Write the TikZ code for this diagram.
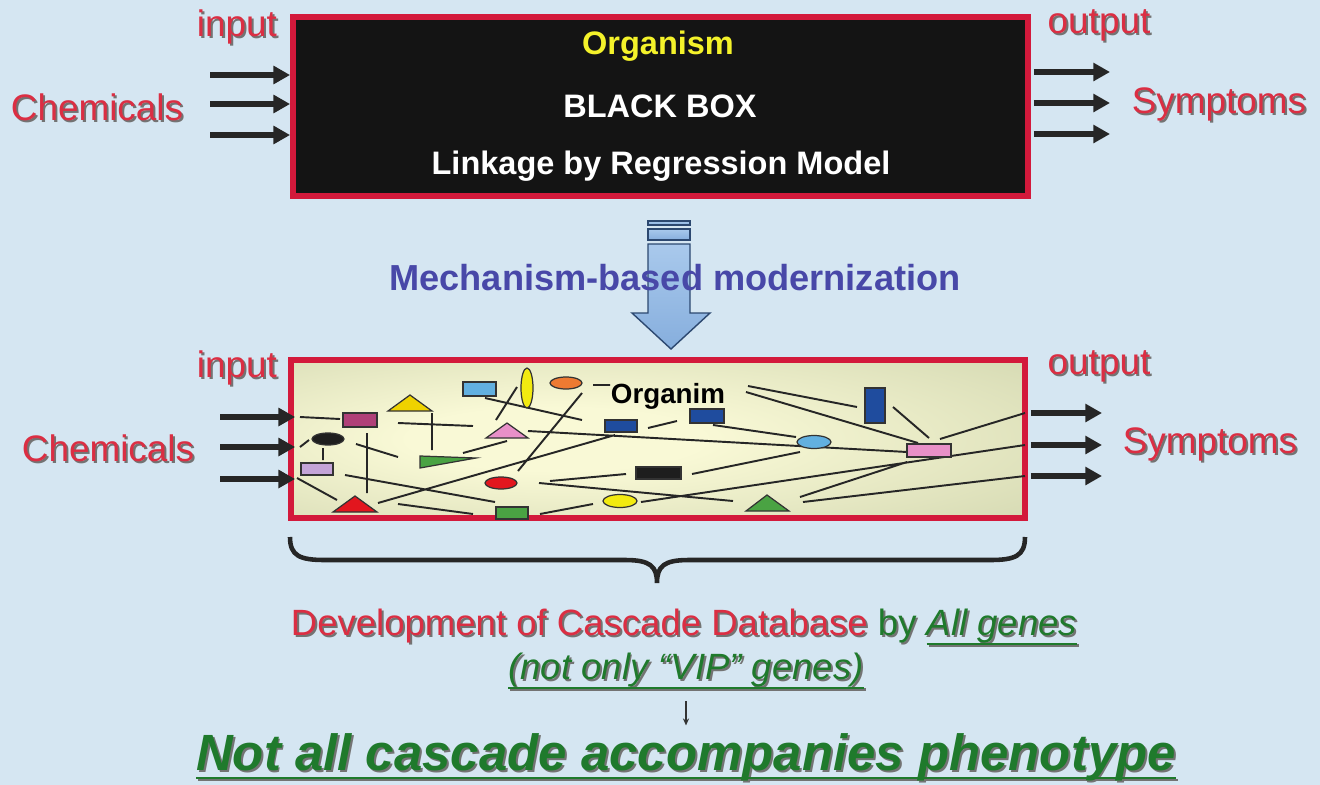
\documentclass[tikz,border=0pt]{standalone}
\usepackage{fontspec}
\setmainfont{Liberation Sans}
\usetikzlibrary{arrows.meta}

\definecolor{bgblue}{HTML}{D5E6F2}
\definecolor{boxred}{HTML}{D3193B}
\definecolor{txtred}{HTML}{DB2E43}
\definecolor{txtgreen}{HTML}{1F7A2C}
\definecolor{txtblue}{HTML}{4848A8}
\definecolor{orgyellow}{HTML}{F4F22A}
\definecolor{arrowfill}{HTML}{A9C9EC}
\definecolor{arrowdark}{HTML}{86AEDD}
\definecolor{arrowline}{HTML}{2C4870}
\definecolor{glowin}{HTML}{F9F9D6}
\definecolor{glowout}{HTML}{C6CCA4}
\definecolor{shLblue}{HTML}{62B0E0}
\definecolor{shYellow}{HTML}{F2EA10}
\definecolor{shOrange}{HTML}{EE7A32}
\definecolor{shGold}{HTML}{EED200}
\definecolor{shMagenta}{HTML}{B04078}
\definecolor{shPink}{HTML}{E890C8}
\definecolor{shBlack}{HTML}{1E1E1E}
\definecolor{shLav}{HTML}{C4A4D8}
\definecolor{shGreen}{HTML}{4AA343}
\definecolor{shRed}{HTML}{E2161E}
\definecolor{shDblue}{HTML}{1F4C9E}

% 细胞内部的径向渐变
\pgfdeclareradialshading{cellglow}{\pgfpoint{-8bp}{0bp}}{color(0bp)=(glowin); color(10bp)=(glowin); color(52bp)=(glowout); color(80bp)=(glowout)}

\newcommand\fs[1]{\fontsize{#1}{#1}\selectfont}
% 带阴影的文字
\newcommand\shd[2]{\makebox[0pt][l]{\kern1.1pt\raisebox{-1.1pt}{\color{black!55}#2}}\textcolor{#1}{#2}}
% 下划线（在下行字母之下）
\newsavebox\ulinebox
\newcommand\uln[2][0.25em]{\sbox\ulinebox{#2}\rlap{\rule[-#1]{\wd\ulinebox}{1.3pt}}\usebox\ulinebox}

\begin{document}
\begin{tikzpicture}[x=0.02cm,y=-0.02cm,>={Triangle[length=9.5pt,width=10pt]},
  flow/.style={line width=2.9pt,black!85,->},
  wire/.style={line width=1.1pt,black!85},
  part/.style={draw=black!80,line width=0.7pt},
  lbl/.style={inner sep=0pt}]
% 背景
\fill[bgblue] (0,0) rectangle (1320,785);
\useasboundingbox (0,0) rectangle (1320,785);

% 上方：黑箱
\node[draw=boxred,line width=3.4pt,fill=black!92,minimum width=14.7cm,
  minimum height=3.58cm,inner sep=0pt] (bb) at (660.5,106.5) {};
\node[lbl,font=\bfseries\fs{18.5pt},text=orgyellow] (org) at (658,46) {Organism};
\node[lbl,font=\bfseries\fs{18.5pt},text=white] (blk) at (660,106) {BLACK BOX};
\node[lbl,font=\bfseries\fs{18.5pt},text=white] (lnk) at (661,166) {Linkage by Regression Model};
\node[lbl,font=\fs{21pt}] (in1) at (237,28) {\shd{txtred}{input}};
\node[lbl,font=\fs{21pt}] (out1) at (1099,26) {\shd{txtred}{output}};
\node[lbl,font=\fs{21pt}] (chem1) at (97,108) {\shd{txtred}{Chemicals}};
\node[lbl,font=\fs{21pt}] (sym1) at (1219,105) {\shd{txtred}{Symptoms}};
\draw[flow] (210,75) -- (bb.west |- 0,75);
\draw[flow] (210,104) -- (bb.west |- 0,104);
\draw[flow] (210,135) -- (bb.west |- 0,135);
\draw[flow,shorten <=1.7pt] (bb.east |- 0,72) -- (1110,72);
\draw[flow,shorten <=1.7pt] (bb.east |- 0,103) -- (1110,103);
\draw[flow,shorten <=1.7pt] (bb.east |- 0,134) -- (1110,134);

% 中间的大箭头
\shade[top color=arrowfill,bottom color=arrowdark,draw=arrowline,line width=0.8pt]
  (648,221) rectangle (690,225);
\shade[top color=arrowfill,bottom color=arrowdark,draw=arrowline,line width=0.8pt]
  (648,229) rectangle (690,240);
\shade[top color=arrowfill,bottom color=arrowdark,draw=arrowline,line width=0.8pt]
  (648,244) -- (690,244) -- (690,313) -- (710,313) -- (671,349) -- (632,313)
  -- (648,313) -- cycle;
\node[lbl,font=\bfseries\fs{20.6pt},text=txtblue] (mech) at (675,278)
  {Mechanism-based modernization};

% 下方：级联网络
\node[draw=boxred,line width=3.4pt,shade,shading=cellglow,minimum width=14.68cm,
  minimum height=3.16cm,inner sep=0pt] (cb) at (658,439) {};
\draw[wire] (300,417) -- (340,419) (300,447) -- (309,440) (297,478) -- (337,500)
  (398,423) -- (473,426) (432,413) -- (432,450) (323,448) -- (323,460)
  (356,444) -- (398,457) (367,433) -- (367,493) (345,475) -- (495,502)
  (378,503) -- (615,435) (398,504) -- (473,514) (540,514) -- (593,504)
  (463,453) -- (507,441) (496,420) -- (517,387) (485,398) -- (582,420)
  (528,431) -- (907,452) (582,393) -- (518,471) (593,385) -- (610,385)
  (748,386) -- (857,407) (746,392) -- (918,443) (893,407) -- (929,438)
  (940,439) -- (1025,413) (648,428) -- (677,421) (713,425) -- (796,437)
  (800,452) -- (692,474) (550,481) -- (626,474) (539,483) -- (733,501)
  (641,502) -- (1025,445) (800,497) -- (907,462) (803,502) -- (1025,476);
% 各种分子
\draw[part,fill=shLblue] (463,382) rectangle (496,396);
\draw[part,fill=shYellow] (527,388) ellipse [x radius=6,y radius=20];
\draw[part,fill=shOrange] (566,383) ellipse [x radius=16,y radius=6];
\draw[part,fill=shGold] (410,395) -- (432,411) -- (388,411) -- cycle;
\draw[part,fill=shMagenta] (343,413) rectangle (377,427);
\draw[part,fill=shPink] (507,423) -- (528,438) -- (486,438) -- cycle;
\draw[part,fill=shBlack] (328,439) ellipse [x radius=16,y radius=6];
\draw[part,fill=shLav] (301,463) rectangle (333,475);
\draw[part,fill=shGreen] (420,456) -- (476,458) -- (420,468) -- cycle;
\draw[part,fill=shRed] (501,483) ellipse [x radius=16,y radius=6];
\draw[part,fill=shRed] (355,496) -- (377,512) -- (333,512) -- cycle;
\draw[part,fill=shGreen] (496,507) rectangle (528,519);
\draw[part,fill=shYellow] (620,501) ellipse [x radius=17,y radius=6.5];
\draw[part,fill=shDblue] (605,420) rectangle (637,432);
\draw[part,fill=shDblue] (690,409) rectangle (724,423);
\draw[part,fill=shDblue] (865,388) rectangle (885,423);
\draw[part,fill=shLblue] (814,442) ellipse [x radius=17,y radius=6.5];
\draw[part,fill=shPink] (907,444) rectangle (951,457);
\draw[part,fill=shBlack] (636,467) rectangle (681,479);
\draw[part,fill=shGreen] (767,495) -- (789,511) -- (746,511) -- cycle;
\node[lbl,font=\bfseries\fs{15.8pt}] (orgm) at (668,396) {Organim};

\node[lbl,font=\fs{21pt}] (in2) at (237,369) {\shd{txtred}{input}};
\node[lbl,font=\fs{21pt}] (out2) at (1099,367) {\shd{txtred}{output}};
\node[lbl,font=\fs{21pt}] (chem2) at (108,449) {\shd{txtred}{Chemicals}};
\node[lbl,font=\fs{21pt}] (sym2) at (1210,445) {\shd{txtred}{Symptoms}};
\draw[flow,shorten >=-4pt] (220,417) -- (cb.west |- 0,417);
\draw[flow,shorten >=-4pt] (220,447) -- (cb.west |- 0,447);
\draw[flow,shorten >=-4pt] (220,479) -- (cb.west |- 0,479);
\draw[flow,shorten <=1.7pt] (cb.east |- 0,413) -- (1102,413);
\draw[flow,shorten <=1.7pt] (cb.east |- 0,445) -- (1102,445);
\draw[flow,shorten <=1.7pt] (cb.east |- 0,476) -- (1102,476);

% 大括号
\draw[line width=2.6pt,black!85] (290,537) .. controls (290,556) and (300,560) .. (325,560)
  -- (625,560) .. controls (650,560) and (657,566) .. (657,583)
  .. controls (657,566) and (664,560) .. (689,560) -- (990,560)
  .. controls (1015,560) and (1025,556) .. (1025,537);

% 结论
\node[lbl,font=\fs{20.8pt}] (dev) at (684,628)
  {\shd{txtred}{Development of Cascade Database} \shd{txtgreen}{by}
   {\itshape\shd{txtgreen}{\uln{All genes}}}};
\node[lbl,font=\itshape\fs{20.8pt}] (vip) at (686,672)
  {\shd{txtgreen}{\uln{(not only “VIP” genes)}}};
\node[lbl,font=\bfseries\itshape\fs{29pt}] (np) at (686,758)
  {\shd{txtgreen}{\uln[0.17em]{Not all cascade accompanies phenotype}}};
\draw[-{Stealth[length=4pt,width=3.5pt]},line width=0.8pt,black!80,
  shorten <=0.2cm,shorten >=0.15cm] (vip) -- (np);
\end{tikzpicture}
\end{document}
